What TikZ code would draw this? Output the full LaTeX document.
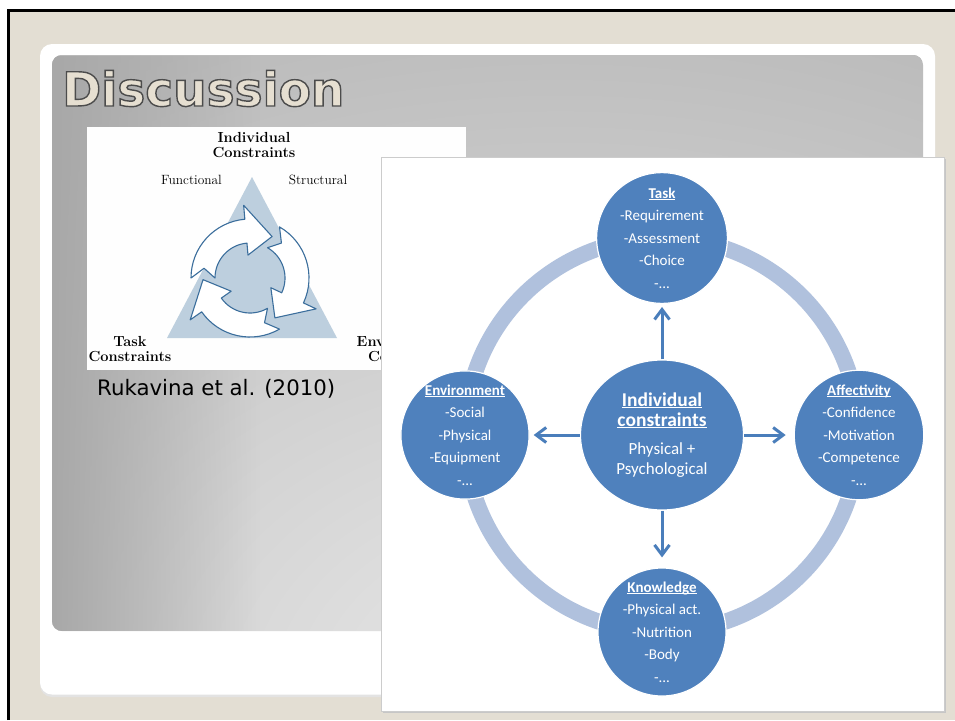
\documentclass[tikz,border=0pt]{standalone}
\usepackage{fontspec}
\usepackage{tikz}
\usetikzlibrary{positioning}
\usetikzlibrary{shapes.geometric,arrows.meta,fadings}
\newfontfamily\carlito{Carlito}
\newfontfamily\dejavu{DejaVu Sans}
\newfontfamily\titlefont[FakeBold=3]{DejaVu Sans Bold}
\definecolor{slidebeige}{HTML}{E3DED3}
\definecolor{figblue}{HTML}{BDCFDE}
\definecolor{figline}{HTML}{3B6E9C}
\definecolor{nodeblue}{HTML}{4F81BD}
\definecolor{ringblue}{HTML}{B0C1DD}
\definecolor{linkblue}{HTML}{4A7EBB}
\newcommand{\hdline}[1]{\leavevmode\setbox0=\hbox{#1}\rlap{\rule[-2pt]{\wd0}{1.2pt}}\box0}
\newcommand{\rimtext}[1]{\special{pdf:bcolor [0.902 0.875 0.82] [0.3 0.3 0.3]}#1\special{pdf:ecolor}}

\begin{document}
\begin{tikzpicture}[x=1pt, y=-1pt, node distance=197pt,
        sat/.style = {circle, fill=nodeblue, draw=white, line width=1.2pt, minimum size=128pt, inner sep=0pt,
                      text=white, align=center, font=\carlito\fontsize{15}{22.5}\selectfont},
        link/.style = {draw=linkblue, line width=3pt, -{Straight Barb[length=10pt,width=15pt]}},
        figtext/.style = {inner sep=0pt, align=center, font=\bfseries\fontsize{14.6}{15.5}\selectfont},
        figsmall/.style = {inner sep=0pt, anchor=base, font=\fontsize{13.4}{15}\selectfont}
        ]
        \useasboundingbox (0,0) rectangle (955,720);
        \fill[white] (0,0) rectangle (955,720);
        \fill[slidebeige] (8,10) rectangle (955,720);
        \draw[line width=2.5pt] (8.5,720) -- (8.5,10.5) -- (955,10.5);

        % slide
        \fill[rounded corners=12, gray!22] (40,45.5) rectangle (935,697);
        \fill[rounded corners=12, white] (40,44) rectangle (935,694.5);
        \begin{scope}
          \clip[rounded corners=10] (52,55) rectangle (923,631);
          \fill[gray!73] (52,55) rectangle (923,631);
          \shade[inner color=gray!18, outer color=gray!73] (560,700) ellipse [x radius=1500, y radius=1100];
          \fill[gray!68, path fading=east] (52,55) rectangle (260,631);
        \end{scope}
        \node[inner sep=0pt, anchor=base west, font=\titlefont\fontsize{47}{50}\selectfont] (title) at (62,106) {\rimtext{Discussion}};

        % figure of Rukavina et al.
        \begin{scope}
          \clip (87,127) rectangle (466,370);
          \fill[white!99!gray] (87,127) rectangle (466,370);
          \fill[figblue] (252,177) -- (337,338) -- (167,338) -- cycle;
          \begin{scope}[shift={(250,278)}]
            \foreach \a in {180,300,60}
              \filldraw[fill=white, draw=figline, line width=1.1pt, line join=round]
                (\a:59) arc[start angle=\a, end angle=\a+85, radius=59] -- (\a+85:73) -- (\a+118:47)
                -- (\a+85:23) -- (\a+85:35) arc[start angle=\a+85, end angle=\a, radius=35] -- (\a+12:47) -- cycle;
          \end{scope}
          \node[figtext, anchor=north] (ic) at (254,132) {Individual\\Constraints};
          \node[figsmall] (func) at (191.5,184) {Functional};
          \node[figsmall] (struc) at (318,184) {Structural};
          \node[figtext, anchor=north] (tc) at (130,336) {Task\\Constraints};
          \node[figtext, anchor=north] (ec) at (409.5,336) {Environmental\\Constraints};
        \end{scope}
        \node[anchor=base west, inner sep=0pt, font=\dejavu\fontsize{21.3}{24}\selectfont] (cite) at (97,395) {Rukavina et al. (2010)};

        % constraints diagram
        \fill[gray!45] (383,159) rectangle (946,713);
        \filldraw[fill=white, draw=gray!40, line width=0.8pt] (381,157) rectangle (944,711);
        \coordinate (hub) at (662,435);
        \draw[ringblue, line width=16pt] (hub) circle[radius=197];
        \node[ellipse, fill=nodeblue, draw=white, line width=1.2pt, minimum width=163pt, minimum height=150pt,
              inner sep=0pt, text=white, align=center, font=\carlito\fontsize{17}{20}\selectfont] (indiv) at (hub)
              {{\bfseries\fontsize{19.5}{20}\selectfont\hdline{Individual}}\\{\bfseries\fontsize{19.5}{20}\selectfont\hdline{constraints}}\\[8pt]Physical +\\Psychological};
        \node[sat] (task) [above of=indiv] {{\bfseries\hdline{Task}}\\-Requirement\\-Assessment\\-Choice\\-...};
        \node[sat] (env) [left of=indiv] {{\bfseries\hdline{Environment}}\\-Social\\-Physical\\-Equipment\\-...};
        \node[sat] (aff) [right of=indiv] {{\bfseries\hdline{Affectivity}}\\-Confidence\\-Motivation\\-Competence\\-...};
        \node[sat] (know) [below of=indiv] {{\bfseries\hdline{Knowledge}}\\-Physical act.\\-Nutrition\\-Body\\-...};
        \draw[link, shorten >=3pt] (indiv) -- (task);
        \draw[link, shorten >=4pt] (indiv) -- (env);
        \draw[link, shorten >=8pt] (indiv) -- (aff);
        \draw[link, shorten >=10pt] (indiv) -- (know);
\end{tikzpicture}
\end{document}
